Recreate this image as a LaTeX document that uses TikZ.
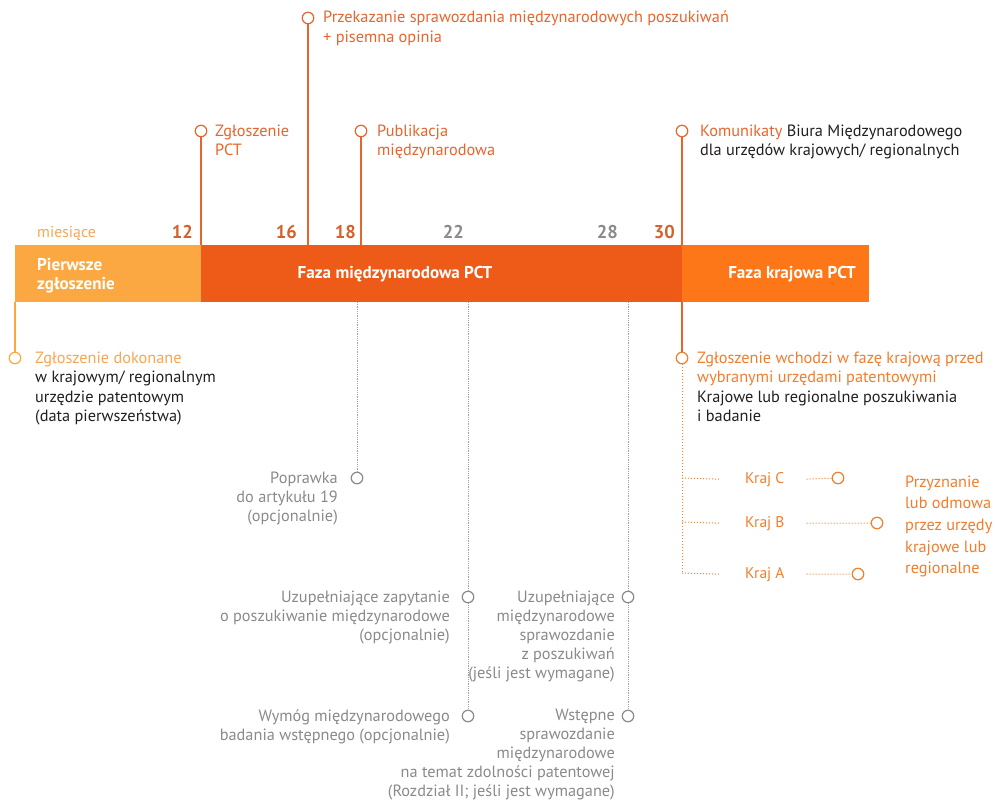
\documentclass[tikz,border=0pt]{standalone}
\usepackage{fontspec}
\setmainfont{PT Sans}
\usetikzlibrary{positioning}
\definecolor{lightor}{HTML}{FBA842}
\definecolor{midor}{HTML}{EE5B18}
\definecolor{rightor}{HTML}{FD7718}
\definecolor{numor}{HTML}{D4602A}
\definecolor{txtor}{HTML}{E6652D}
\definecolor{krajor}{HTML}{F27D2C}
\definecolor{lighttxt}{HTML}{F7A653}
\definecolor{greytxt}{HTML}{8A8A8A}
\definecolor{darktxt}{HTML}{231F20}
\begin{document}
\begin{tikzpicture}[x=1pt,y=-1pt,
    dot/.style={circle, draw=#1, fill=white, line width=1.2pt, minimum size=11.5pt, inner sep=0pt},
    lbl/.style={anchor=base west, align=left, inner sep=0pt, font=\fontsize{16.3}{19.5}\selectfont},
    rlbl/.style={anchor=base east, align=right, inner sep=0pt, text=greytxt, font=\fontsize{16.3}{19.2}\selectfont},
    num/.style={anchor=base east, inner sep=0pt, font=\fontsize{18.5}{20}\selectfont\bfseries},
    phase/.style={inner sep=0pt, text=white, font=\fontsize{17.1}{19}\selectfont\bfseries},
    stem/.style={draw=#1, line width=1.3pt},
    greydots/.style={draw=greytxt!80, densely dotted, line width=0.8pt},
    krajdots/.style={draw=krajor, dotted, line width=1pt}]
  \useasboundingbox (0,0) rectangle (995,800);
  % (anchor base = baseline of the last line of each label)

  % pasek faz
  \fill[lightor] (15,245) rectangle (201,302);
  \fill[midor] (201,245) rectangle (682,302);
  \fill[rightor] (682,245) rectangle (869,302);
  \node (first) [phase, anchor=base west, align=left] at (37,289) {Pierwsze\\zgłoszenie};
  \node (intl) [phase] at (395,274) {Faza międzynarodowa PCT};
  \node (natl) [phase, anchor=east] at (856,274) {Faza krajowa PCT};

  % miesiace
  \node (months) [lbl, text=lighttxt, font=\fontsize{15.8}{19}\selectfont] at (37,237) {miesiące};
  \node (m12) [num, text=numor] at (193,238) {12};
  \node (m16) [num, text=numor] at (297,238) {16};
  \node (m18) [num, text=numor] at (356,238) {18};
  \node (m22) [num, text=greytxt] at (464,238) {22};
  \node (m28) [num, text=greytxt] at (618,238) {28};
  \node (m30) [num, text=numor] at (675,238) {30};

  \coordinate (t12) at (201,245);
  \coordinate (t16) at (308,245);
  \coordinate (t18) at (361,245);
  \coordinate (t30) at (682,245);
  \coordinate (b0) at (15,302);
  \coordinate (b30) at (682,302);
  \coordinate (b19) at (357,302);
  \coordinate (b22) at (468,302);
  \coordinate (b28) at (628,302);

  % gora
  \node (c12) [dot=txtor] at (201,131) {};
  \node (c16) [dot=txtor] at (308,18) {};
  \node (c18) [dot=txtor] at (361,131) {};
  \node (c30) [dot=txtor] at (682,131) {};
  \draw[stem=txtor] (c12) -- (t12);
  \draw[stem=txtor] (c16) -- (t16);
  \draw[stem=txtor] (c18) -- (t18);
  \draw[stem=txtor] (c30) -- (t30);
  \node (pct) [lbl, text=txtor] at (215,155.5) {Zgłoszenie\\PCT};
  \node (isr) [lbl, text=txtor] at (323,42.5) {Przekazanie sprawozdania międzynarodowych poszukiwań\\+ pisemna opinia};
  \node (pub) [lbl, text=txtor] at (377,155.5) {Publikacja\\międzynarodowa};
  \node (ib) [lbl, text=darktxt] at (700,155.5) {\textcolor{txtor}{Komunikaty} Biura Międzynarodowego\\dla urzędów krajowych/ regionalnych};

  % dol lewy
  \node (c0) [dot=lightor] at (15,358) {};
  \draw[stem=lightor] (b0) -- (c0);
  \node (prio) [lbl, text=darktxt] at (35,421.5) {\textcolor{lighttxt}{Zgłoszenie dokonane}\\w krajowym/ regionalnym\\urzędzie patentowym\\(data pierwszeństwa)};

  % faza krajowa
  \node (c31) [dot=krajor] at (682,358) {};
  \draw[stem=txtor] (b30) -- (c31);
  \node (entry) [lbl, text=darktxt] at (697,421.5) {\textcolor{krajor}{Zgłoszenie wchodzi w fazę krajową przed}\\\textcolor{krajor}{wybranymi urzędami patentowymi}\\Krajowe lub regionalne poszukiwania\\i badanie};
  \coordinate (kC) at (682,478);
  \coordinate (kB) at (682,522);
  \coordinate (kA) at (682,573);
  \draw[krajdots] (c31) -- (kA);
  \node (krajC) [lbl, text=krajor, font=\fontsize{15.5}{19}\selectfont] at (745,483) {Kraj C};
  \node (krajB) [lbl, text=krajor, font=\fontsize{15.5}{19}\selectfont] at (745,527) {Kraj B};
  \node (krajA) [lbl, text=krajor, font=\fontsize{15.5}{19}\selectfont] at (745,578) {Kraj A};
  \node (dC) [dot=krajor] at (838,478) {};
  \node (dB) [dot=krajor] at (877,523) {};
  \node (dA) [dot=krajor] at (858,574) {};
  \draw[krajdots] (kC) -- ([xshift=-26pt]krajC.west);
  \draw[krajdots] (kB) -- ([xshift=-26pt]krajB.west);
  \draw[krajdots] (kA) -- ([xshift=-26pt]krajA.west);
  \draw[krajdots] ([xshift=22pt]krajC.east) -- (dC);
  \draw[krajdots] ([xshift=22pt]krajB.east) -- (dB);
  \draw[krajdots] ([xshift=22pt]krajA.east) -- (dA);
  \node (grant) [lbl, text=krajor, font=\fontsize{16.3}{21.7}\selectfont] at (905,573.8) {Przyznanie\\lub odmowa\\przez urzędy\\krajowe lub\\regionalne};

  % opcje w fazie miedzynarodowej
  \node (p19) [dot=greytxt] at (357,478) {};
  \node (s22a) [dot=greytxt] at (468,597) {};
  \node (s22b) [dot=greytxt] at (468,716) {};
  \node (s28a) [dot=greytxt] at (628,597) {};
  \node (s28b) [dot=greytxt] at (628,716) {};
  \draw[greydots] (b19) -- (p19);
  \draw[greydots] (b22) -- (s22a);
  \draw[greydots] (s22a) -- (s22b);
  \draw[greydots] (b28) -- (s28a);
  \draw[greydots] (s28a) -- (s28b);
  \node (art19) [rlbl] at (338,521.4) {Poprawka\\do artykułu 19\\(opcjonalnie)};
  \node (sisr) [rlbl] at (450,640.4) {Uzupełniające zapytanie\\o poszukiwanie międzynarodowe\\(opcjonalnie)};
  \node (ipe) [rlbl] at (450,740.2) {Wymóg międzynarodowego\\badania wstępnego (opcjonalnie)};
  \node (sisrep) [rlbl] at (615,678.8) {Uzupełniające\\międzynarodowe\\sprawozdanie\\z poszukiwań\\(jeśli jest wymagane)};
  \node (iprp) [rlbl, font=\fontsize{16.3}{18.9}\selectfont] at (615,796) {Wstępne\\sprawozdanie\\międzynarodowe\\na temat zdolności patentowej\\(Rozdział II; jeśli jest wymagane)};
\end{tikzpicture}
\end{document}
